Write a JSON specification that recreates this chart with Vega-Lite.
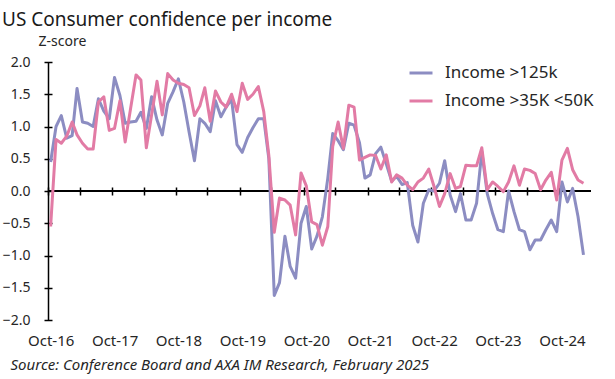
{
  "$schema": "https://vega.github.io/schema/vega-lite/v6.json",
  "width": 543,
  "height": 258,
  "autosize": "none",
  "padding": {"left": 48, "top": 62, "right": 24, "bottom": 59},
  "background": "white",
  "config": {"view": {"stroke": null}, "font": "Noto Sans"},
  "title": {"text": "US Consumer confidence per income", "anchor": "start", "frame": "group", "dx": -46, "fontSize": 19, "fontWeight": "normal", "font": "Noto Sans", "color": "#1a1a1a", "offset": 4},
  "data": {"values": [
    {"date":"2016-10-01","a":0.45,"b":-0.55},{"date":"2016-11-01","a":1.0,"b":0.8},{"date":"2016-12-01","a":1.17,"b":0.74},
    {"date":"2017-01-01","a":0.82,"b":0.85},{"date":"2017-02-01","a":0.86,"b":1.07},{"date":"2017-03-01","a":1.59,"b":0.87},
    {"date":"2017-04-01","a":1.07,"b":0.74},{"date":"2017-05-01","a":1.05,"b":0.65},{"date":"2017-06-01","a":1.0,"b":0.65},
    {"date":"2017-07-01","a":1.43,"b":1.38},{"date":"2017-08-01","a":1.24,"b":1.46},{"date":"2017-09-01","a":1.12,"b":0.94},
    {"date":"2017-10-01","a":1.76,"b":0.97},{"date":"2017-11-01","a":1.48,"b":1.4},{"date":"2017-12-01","a":1.05,"b":0.76},
    {"date":"2018-01-01","a":1.07,"b":1.28},{"date":"2018-02-01","a":1.08,"b":1.8},{"date":"2018-03-01","a":1.22,"b":1.72},
    {"date":"2018-04-01","a":0.97,"b":0.67},{"date":"2018-05-01","a":1.46,"b":1.18},{"date":"2018-06-01","a":1.1,"b":1.7},
    {"date":"2018-07-01","a":0.87,"b":1.18},{"date":"2018-08-01","a":1.36,"b":1.82},{"date":"2018-09-01","a":1.54,"b":1.72},
    {"date":"2018-10-01","a":1.74,"b":1.67},{"date":"2018-11-01","a":1.38,"b":1.65},{"date":"2018-12-01","a":0.92,"b":1.6},
    {"date":"2019-01-01","a":0.47,"b":1.17},{"date":"2019-02-01","a":1.12,"b":1.32},{"date":"2019-03-01","a":1.05,"b":1.6},
    {"date":"2019-04-01","a":0.92,"b":1.08},{"date":"2019-05-01","a":1.4,"b":1.55},{"date":"2019-06-01","a":1.15,"b":1.38},
    {"date":"2019-07-01","a":1.3,"b":1.3},{"date":"2019-08-01","a":1.42,"b":1.5},{"date":"2019-09-01","a":0.72,"b":1.23},
    {"date":"2019-10-01","a":0.6,"b":1.67},{"date":"2019-11-01","a":0.83,"b":1.42},{"date":"2019-12-01","a":0.98,"b":1.5},
    {"date":"2020-01-01","a":1.12,"b":1.62},{"date":"2020-02-01","a":1.12,"b":1.23},{"date":"2020-03-01","a":0.5,"b":0.55},
    {"date":"2020-04-01","a":-1.62,"b":-0.64},{"date":"2020-05-01","a":-1.42,"b":-0.11},{"date":"2020-06-01","a":-0.7,"b":-0.14},
    {"date":"2020-07-01","a":-1.17,"b":-0.22},{"date":"2020-08-01","a":-1.35,"b":-0.68},{"date":"2020-09-01","a":-0.5,"b":0.28},
    {"date":"2020-10-01","a":-0.24,"b":0.08},{"date":"2020-11-01","a":-0.9,"b":-0.48},{"date":"2020-12-01","a":-0.7,"b":-0.52},
    {"date":"2021-01-01","a":-0.4,"b":-0.84},{"date":"2021-02-01","a":0.2,"b":-0.55},{"date":"2021-03-01","a":0.89,"b":0.69},
    {"date":"2021-04-01","a":0.78,"b":1.07},{"date":"2021-05-01","a":0.64,"b":0.66},{"date":"2021-06-01","a":1.05,"b":1.33},
    {"date":"2021-07-01","a":1.02,"b":1.3},{"date":"2021-08-01","a":0.75,"b":0.48},{"date":"2021-09-01","a":0.2,"b":0.52},
    {"date":"2021-10-01","a":0.25,"b":0.56},{"date":"2021-11-01","a":0.58,"b":0.55},{"date":"2021-12-01","a":0.68,"b":0.34},
    {"date":"2022-01-01","a":0.42,"b":0.56},{"date":"2022-02-01","a":0.15,"b":0.14},{"date":"2022-03-01","a":0.23,"b":0.25},
    {"date":"2022-04-01","a":0.1,"b":0.2},{"date":"2022-05-01","a":0.13,"b":0.09},{"date":"2022-06-01","a":-0.53,"b":0.02},
    {"date":"2022-07-01","a":-0.79,"b":0.14},{"date":"2022-08-01","a":-0.19,"b":0.2},{"date":"2022-09-01","a":0.02,"b":0.34},
    {"date":"2022-10-01","a":0.0,"b":0.07},{"date":"2022-11-01","a":0.12,"b":-0.24},{"date":"2022-12-01","a":0.47,"b":-0.04},
    {"date":"2023-01-01","a":-0.06,"b":0.27},{"date":"2023-02-01","a":-0.32,"b":0.04},{"date":"2023-03-01","a":-0.04,"b":0.07},
    {"date":"2023-04-01","a":-0.45,"b":0.4},{"date":"2023-05-01","a":-0.45,"b":0.39},{"date":"2023-06-01","a":-0.19,"b":0.39},
    {"date":"2023-07-01","a":0.61,"b":0.67},{"date":"2023-08-01","a":-0.04,"b":0.02},{"date":"2023-09-01","a":-0.35,"b":0.14},
    {"date":"2023-10-01","a":-0.6,"b":0.07},{"date":"2023-11-01","a":-0.63,"b":-0.01},{"date":"2023-12-01","a":0.0,"b":0.14},
    {"date":"2024-01-01","a":-0.32,"b":0.39},{"date":"2024-02-01","a":-0.6,"b":0.09},{"date":"2024-03-01","a":-0.63,"b":0.34},
    {"date":"2024-04-01","a":-0.91,"b":0.32},{"date":"2024-05-01","a":-0.76,"b":0.27},{"date":"2024-06-01","a":-0.76,"b":0.02},
    {"date":"2024-07-01","a":-0.6,"b":0.17},{"date":"2024-08-01","a":-0.45,"b":0.29},{"date":"2024-09-01","a":-0.63,"b":-0.14},
    {"date":"2024-10-01","a":0.14,"b":0.48},{"date":"2024-11-01","a":-0.17,"b":0.66},{"date":"2024-12-01","a":0.04,"b":0.33},
    {"date":"2025-01-01","a":-0.4,"b":0.17},{"date":"2025-02-01","a":-0.99,"b":0.12}
  ]},
  "resolve": {"axis": {"y": "independent"}},
  "layer": [
    {
      "mark": {"type": "rule", "color": "#000000", "strokeWidth": 1.5},
      "encoding": {
        "y": {"datum": 0, "type": "quantitative", "scale": {"domain": [-2, 2], "nice": false},
          "axis": {"orient": "left", "domain": true, "domainColor": "#000000", "domainWidth": 1.5, "ticks": false, "labels": false, "grid": false, "title": null}}
      }
    },
    {
      "transform": [
        {"calculate": "datum.a", "as": "Income >125k"},
        {"calculate": "datum.b", "as": "Income >35K <50K"},
        {"fold": ["Income >125k", "Income >35K <50K"], "as": ["series", "z"]}
      ],
      "mark": {"type": "line", "strokeWidth": 3, "strokeJoin": "round"},
      "encoding": {
        "x": {"field": "date", "type": "temporal",
          "scale": {"domain": [{"year": 2016, "month": 9, "date": 16, "utc": true}, {"year": 2025, "month": 3, "date": 16, "utc": true}]},
          "axis": {"orient": "bottom", "offset": -133, "domain": false, "grid": false,
            "ticks": true, "tickSize": 8, "tickColor": "#000000", "tickWidth": 1.5,
            "values": [
              {"year":2016,"month":9,"date":16,"utc":true},{"year":2017,"month":3,"date":16,"utc":true},
              {"year":2017,"month":9,"date":16,"utc":true},{"year":2018,"month":3,"date":16,"utc":true},
              {"year":2018,"month":9,"date":16,"utc":true},{"year":2019,"month":3,"date":16,"utc":true},
              {"year":2019,"month":9,"date":16,"utc":true},{"year":2020,"month":3,"date":16,"utc":true},
              {"year":2020,"month":9,"date":16,"utc":true},{"year":2021,"month":3,"date":16,"utc":true},
              {"year":2021,"month":9,"date":16,"utc":true},{"year":2022,"month":3,"date":16,"utc":true},
              {"year":2022,"month":9,"date":16,"utc":true},{"year":2023,"month":3,"date":16,"utc":true},
              {"year":2023,"month":9,"date":16,"utc":true},{"year":2024,"month":3,"date":16,"utc":true},
              {"year":2024,"month":9,"date":16,"utc":true}
            ],
            "labelExpr": "utcmonth(datum.value) == 8 ? 'Oct-' + utcFormat(datum.value, '%y') : ''",
            "labelPadding": 138, "labelOffset": 2.7, "labelFlush": false, "labelOverlap": false,
            "labelFontSize": 15, "labelColor": "#262626", "labelFont": "Noto Sans",
            "title": "Source: Conference Board and AXA IM Research, February 2025",
            "titleX": -38, "titleY": 182, "titleAlign": "left", "titleBaseline": "alphabetic",
            "titleFontStyle": "italic", "titleFontWeight": "normal", "titleFontSize": 15, "titleColor": "#262626", "titleFont": "Noto Sans"}},
        "y": {"field": "z", "type": "quantitative", "scale": {"domain": [-2, 2], "nice": false},
          "axis": {"orient": "left", "offset": -4, "domain": false, "grid": false,
            "values": [-2, -1.5, -1, -0.5, 0, 0.5, 1, 1.5, 2], "format": ".1f",
            "ticks": true, "tickSize": 8, "tickColor": "#000000", "tickWidth": 1.5,
            "labelPadding": 14, "labelFontSize": 14, "labelColor": "#262626", "labelFont": "Noto Sans",
            "title": "Z-score", "titleAngle": 0, "titleX": -14, "titleY": -17, "titleAlign": "left", "titleBaseline": "alphabetic",
            "titleFontWeight": "normal", "titleFontSize": 14, "titleColor": "#262626", "titleFont": "Noto Sans"}},
        "color": {"field": "series", "type": "nominal",
          "scale": {"domain": ["Income >125k", "Income >35K <50K"], "range": ["#8C8DC2", "#E27BA5"]},
          "legend": {"title": null, "orient": "none", "legendX": 360, "legendY": -2,
            "symbolType": "stroke", "symbolSize": 529, "symbolStrokeWidth": 3,
            "labelFontSize": 17, "labelColor": "#262626", "labelFont": "Noto Sans", "labelOffset": 11, "rowPadding": 7}},
        "order": {"field": "series", "type": "nominal"}
      }
    }
  ]
}
